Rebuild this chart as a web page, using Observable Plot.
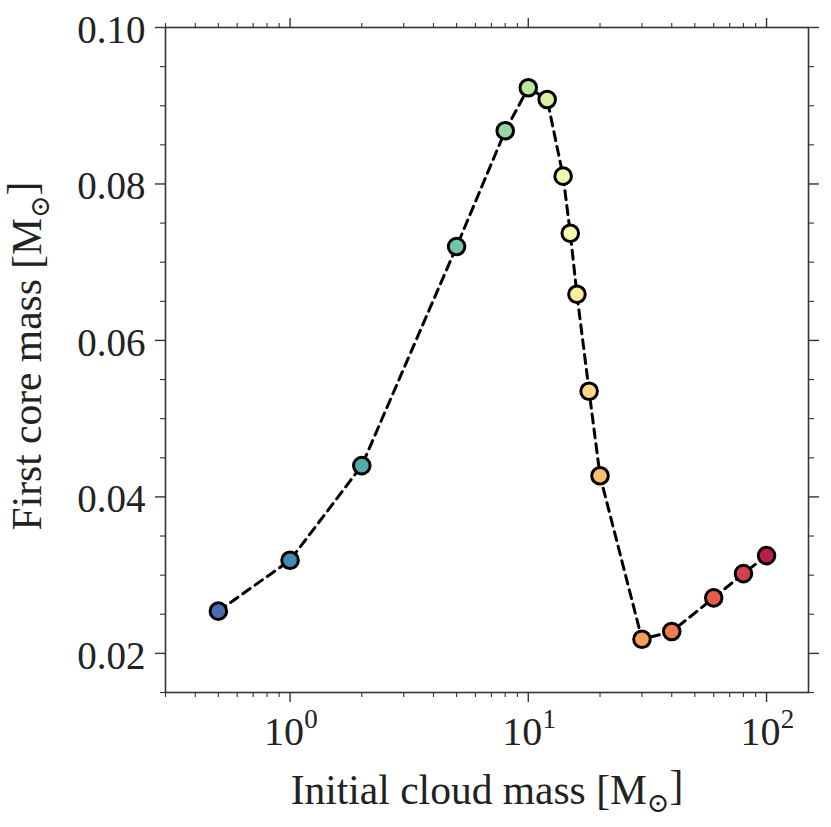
<!DOCTYPE html>
<html>
<head>
<meta charset="utf-8">
<script src="https://cdn.jsdelivr.net/npm/d3@7"></script>
<script src="https://cdn.jsdelivr.net/npm/@observablehq/plot@0.6"></script>
<style>
  html, body { margin: 0; padding: 0; background: #fff; }
  #chart { width: 831px; height: 827px; }
  svg text { font-family: "Liberation Serif", "DejaVu Serif", serif; }
</style>
</head>
<body>
<div id="chart"></div>
<script>
// Data
const cloudMass = [0.5, 1, 2, 5, 8, 10, 12, 14, 15, 16, 18, 20, 30, 40, 60, 80, 100];
const coreMass  = [0.0254, 0.0319, 0.0440, 0.0720, 0.0868, 0.0923, 0.0908, 0.0810, 0.0737, 0.0659, 0.0535, 0.0427, 0.0218, 0.0228, 0.0271, 0.0302, 0.0325];
const xMajorTicks = [1, 10, 100];
const xTickExponents = ["0", "1", "2"];
const xMinorTicks = [0.3,0.4,0.5,0.6,0.7,0.8,0.9,2,3,4,5,6,7,8,9,20,30,40,50,60,70,80,90];
const yMajorTicks = [0.02, 0.04, 0.06, 0.08, 0.10];
const yTickLabels = ["0.02", "0.04", "0.06", "0.08", "0.10"];
const yMinorTicks = [0.015, 0.025, 0.03, 0.035, 0.045, 0.05, 0.055, 0.065, 0.07, 0.075, 0.085, 0.09, 0.095];
const xLabel = "Initial cloud mass [M⊙]";
const yLabel = "First core mass [M⊙]";

const data = cloudMass.map((m, i) => ({m, c: coreMass[i], i}));
const n = data.length;
const colorOf = d => d3.interpolateSpectral(0.95 - d.i * (0.9 / (n - 1)));

const spine = "#333";
const xLabels = xMajorTicks.map((v, i) => ({v, e: xTickExponents[i]}));
const yLabs = yMajorTicks.map((v, i) => ({v, t: yTickLabels[i]}));

const plot = Plot.plot({
  width: 831,
  height: 827,
  marginLeft: 165,
  marginRight: 23,
  marginTop: 27,
  marginBottom: 135,
  style: {background: "#fff", overflow: "visible"},
  x: {type: "log", domain: [0.3, 150], axis: null},
  y: {domain: [0.015, 0.10], axis: null},
  marks: [
    Plot.frame({stroke: spine, strokeWidth: 1.6}),
    Plot.axisX({ticks: xMajorTicks, tickSize: 10, tickFormat: () => "", anchor: "bottom", stroke: spine, strokeWidth: 1.4, label: null}),
    Plot.axisX({ticks: xMajorTicks, tickSize: 10, tickFormat: () => "", anchor: "top", stroke: spine, strokeWidth: 1.4, label: null}),
    Plot.axisX({ticks: xMinorTicks, tickSize: 5, tickFormat: () => "", anchor: "bottom", stroke: spine, strokeWidth: 1.1, label: null}),
    Plot.axisX({ticks: xMinorTicks, tickSize: 5, tickFormat: () => "", anchor: "top", stroke: spine, strokeWidth: 1.1, label: null}),
    Plot.axisY({ticks: yMajorTicks, tickSize: 10, tickFormat: () => "", anchor: "left", stroke: spine, strokeWidth: 1.4, label: null}),
    Plot.axisY({ticks: yMajorTicks, tickSize: 10, tickFormat: () => "", anchor: "right", stroke: spine, strokeWidth: 1.4, label: null}),
    Plot.axisY({ticks: yMinorTicks, tickSize: 5, tickFormat: () => "", anchor: "left", stroke: spine, strokeWidth: 1.1, label: null}),
    Plot.axisY({ticks: yMinorTicks, tickSize: 5, tickFormat: () => "", anchor: "right", stroke: spine, strokeWidth: 1.1, label: null}),
    // y tick labels
    Plot.text(yLabs, {x: 0.3, y: "v", text: "t", textAnchor: "end", dx: -20, dy: 3, fontSize: 39, fill: "#222", lineAnchor: "middle"}),
    // x tick labels: base and exponent
    Plot.text(xLabels, {x: "v", frameAnchor: "bottom", text: () => "10", dy: 40, dx: -6, fontSize: 40, fill: "#222", lineAnchor: "middle"}),
    Plot.text(xLabels, {x: "v", frameAnchor: "bottom", text: "e", dy: 27, dx: 21, fontSize: 27, fill: "#222", lineAnchor: "middle"}),
    // axis labels
    Plot.text([xLabel], {frameAnchor: "bottom", text: d => d, dy: 98, fontSize: 41.5, fill: "#222", lineAnchor: "middle"}),
    Plot.text([yLabel], {frameAnchor: "left", textAnchor: "middle", text: d => d, dx: -138, dy: -4, rotate: -90, fontSize: 41.5, fill: "#222", lineAnchor: "middle"}),
    // data
    Plot.line(data, {x: "m", y: "c", stroke: "#000", strokeWidth: 3, strokeDasharray: "9,6"}),
    Plot.dot(data, {x: "m", y: "c", r: 8.3, fill: colorOf, stroke: "#000", strokeWidth: 3})
  ]
});

// Render the ⊙ as a subscript in axis labels
d3.select(plot).selectAll("text").each(function() {
  const el = d3.select(this);
  const txt = el.text();
  if (txt.includes("⊙")) {
    const [pre, post] = txt.split("⊙");
    el.text(null);
    el.append("tspan").text(pre);
    el.append("tspan").attr("font-size", "0.65em").attr("dy", "0.3em").text("⊙");
    el.append("tspan").attr("dy", "-0.3em").text(post);
  }
});

document.getElementById("chart").appendChild(plot);
</script>
</body>
</html>
